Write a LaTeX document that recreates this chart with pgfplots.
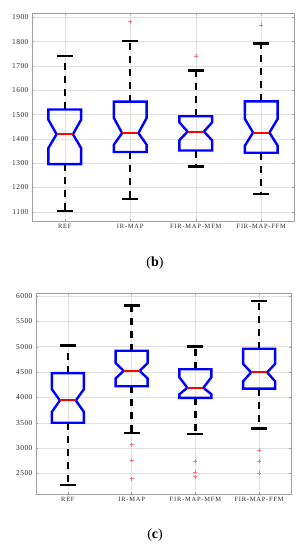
\documentclass[border=0pt]{standalone}
\usepackage{fontspec}
\setmainfont{Liberation Serif}
\newfontfamily\tickfont[LetterSpace=12]{Liberation Serif}
\newfontfamily\ytickfont[LetterSpace=6]{Liberation Serif}
\newfontfamily\capfont{Liberation Serif}
\usepackage{pgfplots}
\pgfplotsset{compat=1.18}
\definecolor{gridc}{RGB}{225,225,225}
\definecolor{framec}{RGB}{160,160,160}
\definecolor{txt}{RGB}{45,45,45}
\pgfplotsset{
  whisk/.style={black, line width=2.4bp, dash pattern=on 7bp off 6bp, line cap=butt, mark=none},
  capl/.style={black, line width=2.6bp, mark=none},
  boxl/.style={blue, line width=2.4bp, line join=miter, mark=none},
  medl/.style={red, line width=2bp, mark=none},
  outl/.style={only marks, mark=+, mark size=2bp, red!55, mark options={line width=0.45bp}},
  myax/.style={
    scale only axis, xmin=0.5, xmax=4.5,
    xtick={1,2,3,4},
    xticklabels={REF,IR-MAP,FIR-MAP-MFM,FIR-MAP-FFM},
    grid=major, major grid style={gridc, line width=0.5bp},
    axis line style={framec, line width=0.6bp},
    major tick length=2bp, tick style={framec, line width=0.4bp},
    x tick label style={font=\tickfont\fontsize{6.5}{7}\selectfont, text=txt},
    y tick label style={font=\ytickfont\fontsize{7.5}{8}\selectfont, text=txt},
    /pgf/number format/assume math mode=true,
    /pgf/number format/1000 sep={},
    clip=false,
  },
}
\newcommand\nbox[8]{%
  \pgfmathsetmacro\xL{#1-0.25}\pgfmathsetmacro\xl{#1-0.125}%
  \pgfmathsetmacro\xr{#1+0.125}\pgfmathsetmacro\xR{#1+0.25}%
  \edef\tmp{%
  \noexpand\addplot[whisk] coordinates {(#1,#7) (#1,#8)};
  \noexpand\addplot[whisk] coordinates {(#1,#3) (#1,#2)};
  \noexpand\addplot[capl] coordinates {(\xl,#8) (\xr,#8)};
  \noexpand\addplot[capl] coordinates {(\xl,#2) (\xr,#2)};
  \noexpand\addplot[boxl] coordinates {(\xL,#3) (\xL,#4) (\xl,#5) (\xL,#6) (\xL,#7) (\xR,#7) (\xR,#6) (\xr,#5) (\xR,#4) (\xR,#3) (\xL,#3) (\xL,#4)};
  \noexpand\addplot[medl] coordinates {(\xl,#5) (\xr,#5)};
  }\tmp
}
\begin{document}
\begin{tikzpicture}
\path[use as bounding box] (0,0) rectangle (307bp,-550bp);
% (b)
\begin{axis}[myax, at={(32bp,-13bp)}, anchor=north west,
  width=262bp, height=208bp, ymin=1062, ymax=1918,
  ytick={1100,1200,...,1900}]
  % x, wlo, q1, nlo, med, nhi, q3, whi
  \nbox{1}{1103}{1296}{1362}{1419}{1479}{1521}{1741}
  \nbox{2}{1152}{1346}{1376}{1424}{1486}{1553}{1802}
  \nbox{3}{1286}{1352}{1394}{1430}{1468}{1493}{1682}
  \nbox{4}{1173}{1343}{1372}{1426}{1482}{1554}{1792}
  \addplot[outl] coordinates {(2,1883) (3,1741) (4,1868)};
\end{axis}
\node[font=\capfont\fontsize{14}{15}\selectfont] at (155bp,-263bp) {(\textbf{b})};
% (c)
\begin{axis}[myax, at={(36bp,-293bp)}, anchor=north west,
  width=255bp, height=201bp, ymin=2095, ymax=6060,
  ytick={2500,3000,...,6000}]
  \nbox{1}{2270}{3500}{3716}{3940}{4160}{4480}{5030}
  \nbox{2}{3300}{4220}{4375}{4525}{4675}{4920}{5810}
  \nbox{3}{3280}{3990}{4065}{4190}{4395}{4555}{5010}
  \nbox{4}{3390}{4175}{4320}{4495}{4660}{4960}{5905}
  \addplot[outl] coordinates {(2,3070) (2,2770) (2,2400)
    (3,2750) (3,2520) (3,2440) (4,2960) (4,2740) (4,2500)};
\end{axis}
\node[font=\capfont\fontsize{14}{15}\selectfont] at (155bp,-535bp) {(\textbf{c})};
\end{tikzpicture}
\end{document}
